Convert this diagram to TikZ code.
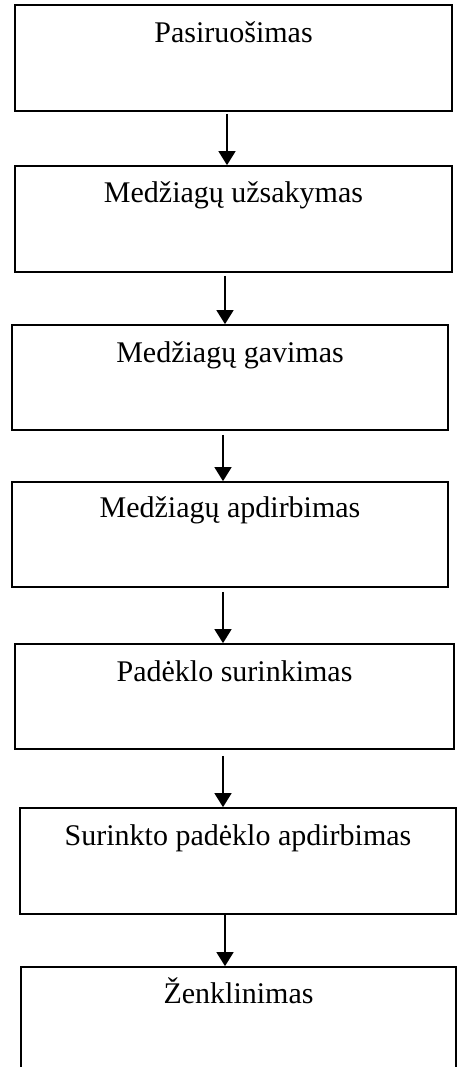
\documentclass[tikz,border=0pt]{standalone}
\usepackage{fontspec}
\setmainfont{Liberation Serif}
\usetikzlibrary{arrows.meta,calc}
\begin{document}
\begin{tikzpicture}[x=1pt,y=-1pt,
  stepbox/.style={draw, rectangle, line width=1.7pt, inner sep=0pt},
  steplabel/.style={anchor=base, inner sep=0pt, font=\fontsize{30}{36}\selectfont},
  flow/.style={line width=1.4pt, -{Triangle[length=14pt,width=17pt]}}]
\useasboundingbox (0,0) rectangle (457,1067);

% process steps (boxes)
\node[stepbox, minimum width=437pt, minimum height=106pt] (b1) at (233.5,58) {};
\node[stepbox, minimum width=437pt, minimum height=106pt] (b2) at (233.5,219) {};
\node[stepbox, minimum width=436pt, minimum height=105pt] (b3) at (230,377.5) {};
\node[stepbox, minimum width=436pt, minimum height=105pt] (b4) at (230,534.5) {};
\node[stepbox, minimum width=439pt, minimum height=105pt] (b5) at (234.5,696.5) {};
\node[stepbox, minimum width=436pt, minimum height=106pt] (b6) at (238,861) {};
\node[stepbox, minimum width=435pt, minimum height=110pt] (b7) at (238.5,1022) {};

% step names near the top of each box
\node[steplabel] (t1) at ($(b1.north)+(0,38)$) {Pasiruošimas};
\node[steplabel] (t2) at ($(b2.north)+(0,37)$) {Medžiagų užsakymas};
\node[steplabel] (t3) at ($(b3.north)+(0,38)$) {Medžiagų gavimas};
\node[steplabel] (t4) at ($(b4.north)+(0,36)$) {Medžiagų apdirbimas};
\node[steplabel] (t5) at ($(b5.north)+(0,38)$) {Padėklo surinkimas};
\node[steplabel] (t6) at ($(b6.north)+(0,38)$) {Surinkto padėklo apdirbimas};
\node[steplabel] (t7) at ($(b7.north)+(0,37)$) {Ženklinimas};

% connectors
\draw[flow, shorten <=2pt] (227,0 |- b1.south) -- (227,0 |- b2.north);
\draw[flow, shorten <=3pt] (225,0 |- b2.south) -- (225,0 |- b3.north);
\draw[flow, shorten <=4pt] (223,0 |- b3.south) -- (223,0 |- b4.north);
\draw[flow, shorten <=4pt] (223,0 |- b4.south) -- (223,0 |- b5.north);
\draw[flow, shorten <=6pt] (223,0 |- b5.south) -- (223,0 |- b6.north);
\draw[flow] (225,0 |- b6.south) -- (225,0 |- b7.north);
\end{tikzpicture}
\end{document}
